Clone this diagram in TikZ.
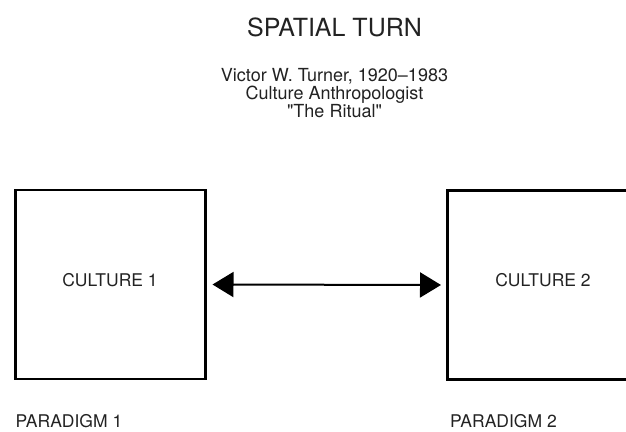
\documentclass[tikz,border=0pt]{standalone}
\usepackage{fontspec}
\setmainfont{TeX Gyre Heros}[Ligatures=TeXOff]
\usetikzlibrary{arrows.meta}
\definecolor{ink}{HTML}{222222}
\tikzset{
  titletext/.style={text=ink, inner sep=0pt, anchor=base, font=\fontsize{25}{29}\selectfont},
  subtext/.style={text=ink, inner sep=0pt, anchor=base, font=\fontsize{18}{19}\selectfont},
  labeltext/.style={text=ink, inner sep=0pt, font=\fontsize{17.5}{20}\selectfont},
  culturebox/.style={draw=black, line width=2.5pt, minimum width=190pt, minimum height=189pt, inner sep=0pt},
  exchange/.style={line width=2pt, {Triangle[length=21pt,width=25pt]}-{Triangle[length=21pt,width=25pt]}}
}
\begin{document}
\begin{tikzpicture}[x=1pt, y=-1pt]
\useasboundingbox (0,0) rectangle (626,431);
\clip (0,0) rectangle (626,431);
\node[titletext] (title) at (334.5,36) {SPATIAL TURN};
\node[subtext] (sub1) at (334.5,81.5) {Victor W. Turner, 1920–1983};
\node[subtext] (sub2) at (334.5,99.5) {Culture Anthropologist};
\node[subtext] (sub3) at (334.5,117) {"The Ritual"};
\node[culturebox] (c1) at (110.25,284.5) {};
\node[culturebox] (c2) at (542.25,285) {};
\node[labeltext, anchor=base] (c1t) at (110,286) {CULTURE 1};
\node[labeltext, anchor=base] (c2t) at (543,286) {CULTURE 2};
\node[labeltext, anchor=base west] (p1) at (15.5,427.5) {PARADIGM 1};
\node[labeltext, anchor=base west] (p2) at (450,427.5) {PARADIGM 2};
\draw[exchange, shorten <=6pt, shorten >=5pt] (c1.east) -- (c2.west);
\end{tikzpicture}
\end{document}
